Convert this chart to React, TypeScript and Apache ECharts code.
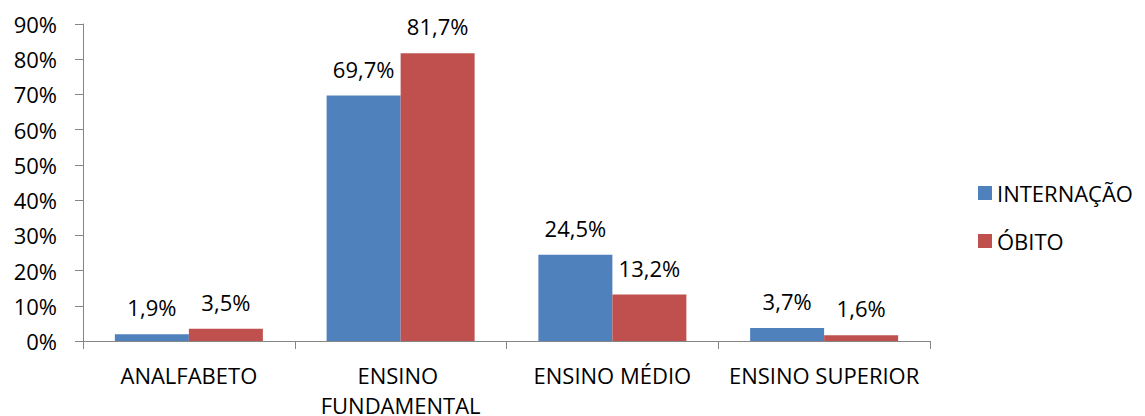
import React, { useEffect, useRef } from "react";
import * as echarts from "echarts";

const categories = ["ANALFABETO", "ENSINO FUNDAMENTAL", "ENSINO MÉDIO", "ENSINO SUPERIOR"];
const internacao = [1.9, 69.7, 24.5, 3.7];
const obito = [3.5, 81.7, 13.2, 1.6];
const seriesNames = ["INTERNAÇÃO", "ÓBITO"];
const yMin = 0;
const yMax = 90;
const yInterval = 10;

const FONT = "'Open Sans', Lato, sans-serif";
const FS = 22;

export default function App() {
  const ref = useRef<HTMLDivElement>(null);
  useEffect(() => {
    document.body.style.margin = "0";
    const chart = echarts.init(ref.current!, null, { renderer: "svg" });
    const fmt = (v: number) => v.toFixed(1).replace(".", ",") + "%";
    const label = {
      show: true,
      position: "top" as const,
      distance: 16,
      color: "#000",
      fontSize: FS,
      fontFamily: FONT,
      formatter: (p: any) => fmt(p.value),
    };
    chart.setOption({
      animation: false,
      backgroundColor: "#fff",
      textStyle: { fontFamily: FONT },
      grid: {
        left: 83,
        right: 215,
        top: 24,
        bottom: 75,
        containLabel: false,
        outerBoundsMode: "none",
      },
      legend: {
        orient: "vertical",
        left: 973,
        top: 177,
        itemWidth: 14,
        itemHeight: 14,
        itemGap: 26,
        icon: "rect",
        textStyle: { fontSize: FS, color: "#000", fontFamily: FONT, padding: [0, 0, 0, 0] },
        data: seriesNames,
      },
      xAxis: {
        type: "category",
        data: categories,
        axisLine: { lineStyle: { color: "#868686", width: 1 } },
        axisTick: { show: true, alignWithLabel: false, length: 8, lineStyle: { color: "#868686" } },
        axisLabel: {
          color: "#000",
          fontSize: FS,
          fontFamily: FONT,
          margin: 19,
          interval: 0,
          width: 205,
          overflow: "break",
          lineHeight: 30,
        },
      },
      yAxis: {
        type: "value",
        min: yMin,
        max: yMax,
        interval: yInterval,
        axisLine: { show: true, lineStyle: { color: "#868686", width: 1 } },
        axisTick: { show: true, length: 8, lineStyle: { color: "#868686" } },
        splitLine: { show: false },
        axisLabel: {
          color: "#000",
          fontSize: FS,
          fontFamily: FONT,
          margin: 26,
          formatter: "{value}%",
        },
      },
      series: [
        {
          name: seriesNames[0],
          type: "bar",
          data: internacao,
          barWidth: 74,
          barGap: "0%",
          itemStyle: { color: "#4F81BD" },
          label,
        },
        {
          name: seriesNames[1],
          type: "bar",
          data: obito,
          barWidth: 74,
          barGap: "0%",
          itemStyle: { color: "#C0504D" },
          label,
        },
      ],
    });
    return () => chart.dispose();
  }, []);
  return <div ref={ref} style={{ width: 1145, height: 416 }} />;
}
